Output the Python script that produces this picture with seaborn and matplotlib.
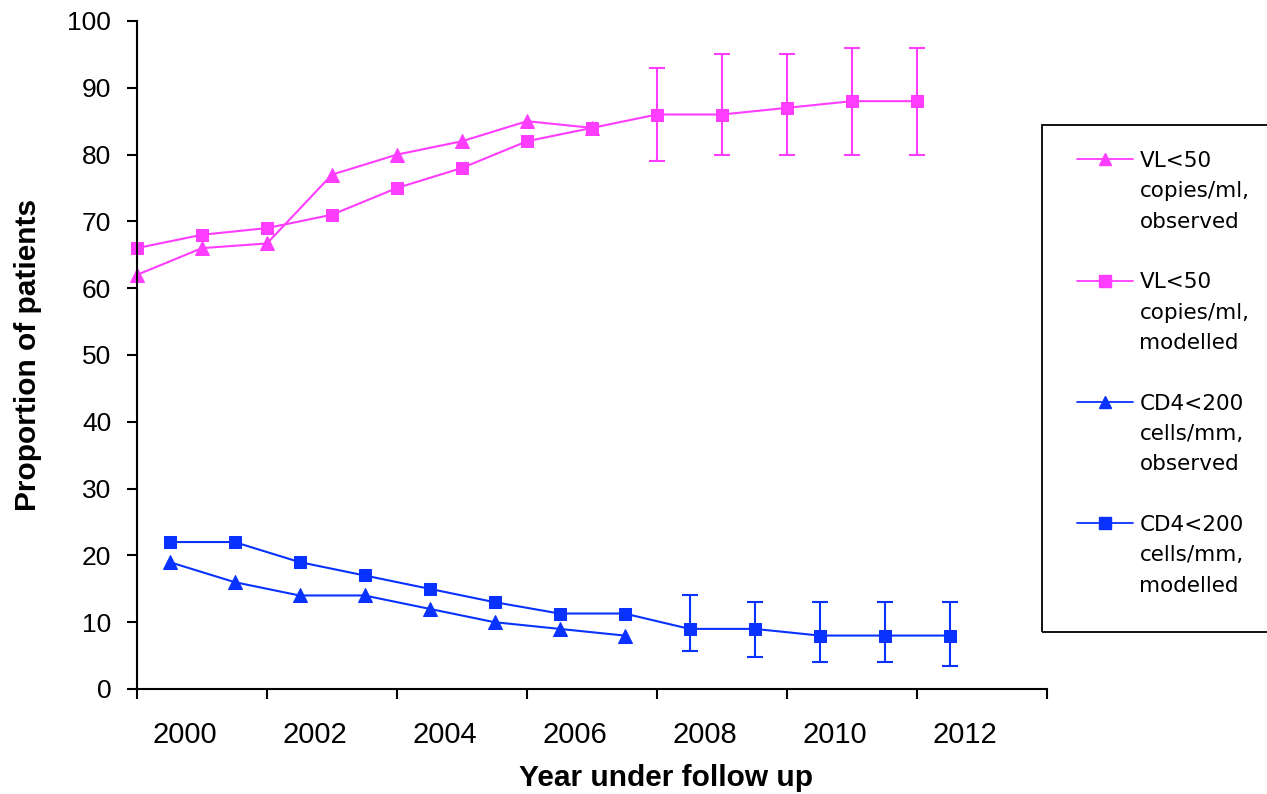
import matplotlib
matplotlib.use("Agg")
import matplotlib.pyplot as plt
import matplotlib.transforms as mtransforms
from matplotlib.lines import Line2D
from matplotlib.patches import Rectangle
import seaborn as sns

# VL points sit on the year, CD4 points half a year later
vl_years = [1999, 2000, 2001, 2002, 2003, 2004, 2005, 2006, 2007, 2008, 2009, 2010, 2011]
vl_observed = [62, 66, 66.7, 77, 80, 82, 85, 84]
vl_modelled = [66, 68, 69, 71, 75, 78, 82, 84, 86, 86, 87, 88, 88]
vl_err_low = [79, 80, 80, 80, 80]     # 2007-2011
vl_err_high = [93, 95, 95, 96, 96]

cd4_years = [1999.5, 2000.5, 2001.5, 2002.5, 2003.5, 2004.5, 2005.5, 2006.5,
             2007.5, 2008.5, 2009.5, 2010.5, 2011.5]
cd4_observed = [19, 16, 14, 14, 12, 10, 9, 8]
cd4_modelled = [22, 22, 19, 17, 15, 13, 11.3, 11.3, 9, 9, 8, 8, 8]
cd4_err_low = [5.7, 4.8, 4, 4, 3.4]   # 2007.5-2011.5
cd4_err_high = [14, 13, 13, 13, 13]

year_labels = ["2000", "2002", "2004", "2006", "2008", "2010", "2012"]
legend_lines = [
    ["VL<50", "copies/ml,", "observed"],
    ["VL<50", "copies/ml,", "modelled"],
    ["CD4<200", "cells/mm,", "observed"],
    ["CD4<200", "cells/mm,", "modelled"],
]

pink = "#FF3DFF"
blue = "#0A32FF"

sns.set_style("ticks")
plt.rcParams['font.family'] = ['Liberation Sans', 'DejaVu Sans']
plt.rcParams['text.color'] = 'black'
plt.rcParams['xtick.color'] = 'black'
plt.rcParams['ytick.color'] = 'black'
plt.rcParams['axes.edgecolor'] = 'black'

W, H = 1267, 794
fig = plt.figure(figsize=(W / 100, H / 100), dpi=100)
ax = fig.add_axes([137 / W, 1 - 689 / H, (1047 - 137) / W, (689 - 21) / H])

n_obs = len(vl_observed)
sns.lineplot(x=vl_years[:n_obs], y=vl_observed, color=pink, marker="^", markersize=10,
             markeredgecolor=pink, linewidth=1.5, clip_on=False, ax=ax)
sns.lineplot(x=vl_years, y=vl_modelled, color=pink, marker="s", markersize=9,
             markeredgecolor=pink, linewidth=1.5, clip_on=False, ax=ax)
sns.lineplot(x=cd4_years[:n_obs], y=cd4_observed, color=blue, marker="^", markersize=10,
             markeredgecolor=blue, linewidth=1.5, clip_on=False, ax=ax)
sns.lineplot(x=cd4_years, y=cd4_modelled, color=blue, marker="s", markersize=9,
             markeredgecolor=blue, linewidth=1.5, clip_on=False, ax=ax)

# error bars on the modelled part
k = len(vl_err_low)
vy = vl_modelled[-k:]
ax.errorbar(vl_years[-k:], vy,
            yerr=[[v - lo for v, lo in zip(vy, vl_err_low)], [hi - v for v, hi in zip(vy, vl_err_high)]],
            fmt="none", ecolor=pink, elinewidth=1.5, capsize=6, capthick=1.5)
cy = cd4_modelled[-k:]
ax.errorbar(cd4_years[-k:], cy,
            yerr=[[v - lo for v, lo in zip(cy, cd4_err_low)], [hi - v for v, hi in zip(cy, cd4_err_high)]],
            fmt="none", ecolor=blue, elinewidth=1.5, capsize=6, capthick=1.5)

ax.set_xlim(1999, 2013)
ax.set_ylim(0, 100)
ax.set_yticks(range(0, 101, 10))
ax.set_xticks(range(1999, 2014, 2))
ax.set_xticklabels([])
ax.set_xticks([int(s) for s in year_labels], minor=True)
ax.set_xticklabels(year_labels, minor=True)
ax.set_xlabel("")
ax.set_ylabel("")

for side in ["top", "right"]:
    ax.spines[side].set_visible(False)
for side in ["left", "bottom"]:
    ax.spines[side].set_linewidth(1.5)
    ax.spines[side].set_color("black")

ax.tick_params(axis="both", which="major", direction="out", length=7.5, width=1.5, color="black")
ax.tick_params(axis="y", labelsize=19, pad=11, labelcolor="black")
ax.tick_params(axis="x", which="minor", length=0, labelsize=21, pad=23, labelcolor="black")

offset = mtransforms.ScaledTranslation(-0.17, 0, fig.dpi_scale_trans)
for lab in ax.get_xticklabels(minor=True):
    lab.set_transform(lab.get_transform() + offset)

fig.text(666 / W, 1 - 778 / H, "Year under follow up", ha="center", va="center",
         fontsize=21.5, fontweight="bold", color="black")
fig.text(28 / W, 1 - 355 / H, "Proportion of patients", ha="center", va="center",
         rotation=90, fontsize=21.5, fontweight="bold", color="black")

# legend: one row per text line, the marker sits on the first line
handles, labels = [], []
styles = [(pink, "^"), (pink, "s"), (blue, "^"), (blue, "s")]
blank = Line2D([], [], linestyle="none", marker=None)
for i, ((c, m), lines) in enumerate(zip(styles, legend_lines)):
    handles.append(Line2D([], [], color=c, marker=m, markersize=8, linewidth=1.3))
    labels.append(lines[0])
    for t in lines[1:]:
        handles.append(blank)
        labels.append(t)
    if i < len(legend_lines) - 1:
        handles.append(blank)
        labels.append(" ")

fs = 15.5
ax.legend(handles, labels, loc="upper left", bbox_to_anchor=(1077 / W, 1 - 151 / H),
          bbox_transform=fig.transFigure, frameon=False, borderpad=0, borderaxespad=0,
          handlelength=56 / (fs * 100 / 72), handletextpad=0.3, labelspacing=0.48,
          labelcolor="black", prop={"family": ["DejaVu Sans"], "size": fs})

fig.add_artist(Rectangle((1042 / W, 1 - 632 / H), (1290 - 1042) / W, (632 - 125) / H,
                         transform=fig.transFigure, fill=False, edgecolor="black",
                         linewidth=1.3, clip_on=False))

fig.savefig("out.png", dpi=100)
